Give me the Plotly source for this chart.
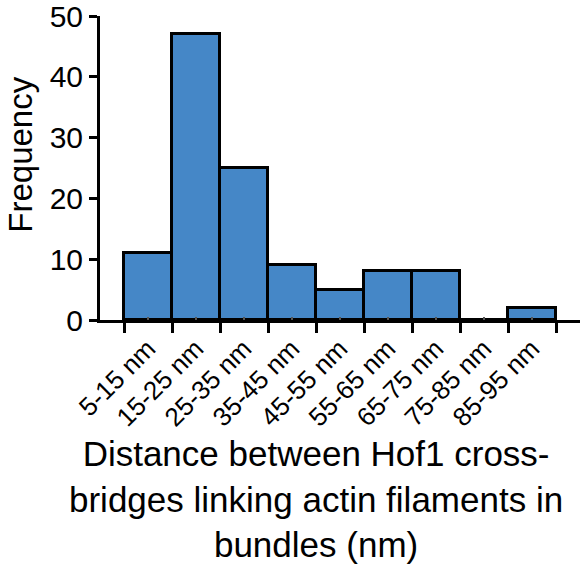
import plotly.graph_objects as go

categories = ["5-15 nm", "15-25 nm", "25-35 nm", "35-45 nm", "45-55 nm",
              "55-65 nm", "65-75 nm", "75-85 nm", "85-95 nm"]
frequency = [11, 47, 25, 9, 5, 8, 8, 0, 2]
y_ticks = [0, 10, 20, 30, 40, 50]

FONT = "Liberation Sans, Arial, Helvetica, sans-serif"
positions = list(range(len(categories)))

fig = go.Figure()
fig.add_trace(go.Bar(
    x=positions, y=frequency, width=1,
    marker=dict(color="#4587C7", line=dict(color="black", width=3)),
    cliponaxis=False, showlegend=False,
))

fig.update_layout(
    width=581, height=571,
    margin=dict(l=100, r=1, t=16, b=251, autoexpand=False),
    paper_bgcolor="white", plot_bgcolor="white",
    bargap=0,
    font=dict(family=FONT, color="black"),
    xaxis=dict(
        range=[-1, len(categories)],
        tickmode="array", tickvals=positions, ticktext=categories,
        tickangle=-45, tickfont=dict(size=26, family=FONT),
        ticks="inside", ticklen=3, tickwidth=2, tickcolor="#555",
        showline=True, linecolor="black", linewidth=3,
        showgrid=False, zeroline=False, automargin=False,
        ticklabelstandoff=0,
        minor=dict(ticks="outside", ticklen=10, tickwidth=3, tickcolor="black",
                   tick0=-0.5, dtick=1, showgrid=False),
    ),
    yaxis=dict(
        range=[0, 50.0001], tickmode="array", tickvals=y_ticks,
        tickfont=dict(size=30, family=FONT),
        ticks="outside", ticklen=8, tickwidth=3, tickcolor="black",
        showline=True, linecolor="black", linewidth=3,
        showgrid=False, zeroline=False, automargin=False,
        ticklabelstandoff=0, ticklabeloverflow="allow",
    ),
    annotations=[
        dict(text="Frequency", textangle=-90, xref="paper", yref="paper",
             x=-0.165, y=0.543, xanchor="center", yanchor="middle",
             showarrow=False, font=dict(size=33, family=FONT)),
        dict(text="Distance between Hof1 cross-<br>bridges linking actin filaments in<br>bundles (nm)",
             xref="paper", yref="paper", x=0.45, y=-0.368,
             xanchor="center", yanchor="top", align="center",
             showarrow=False, font=dict(size=35, family=FONT)),
    ],
)

fig.write_html(
    "out.html",
    config={"displayModeBar": False},
    post_script="document.body.style.margin='0';document.body.style.overflow='hidden';",
)
